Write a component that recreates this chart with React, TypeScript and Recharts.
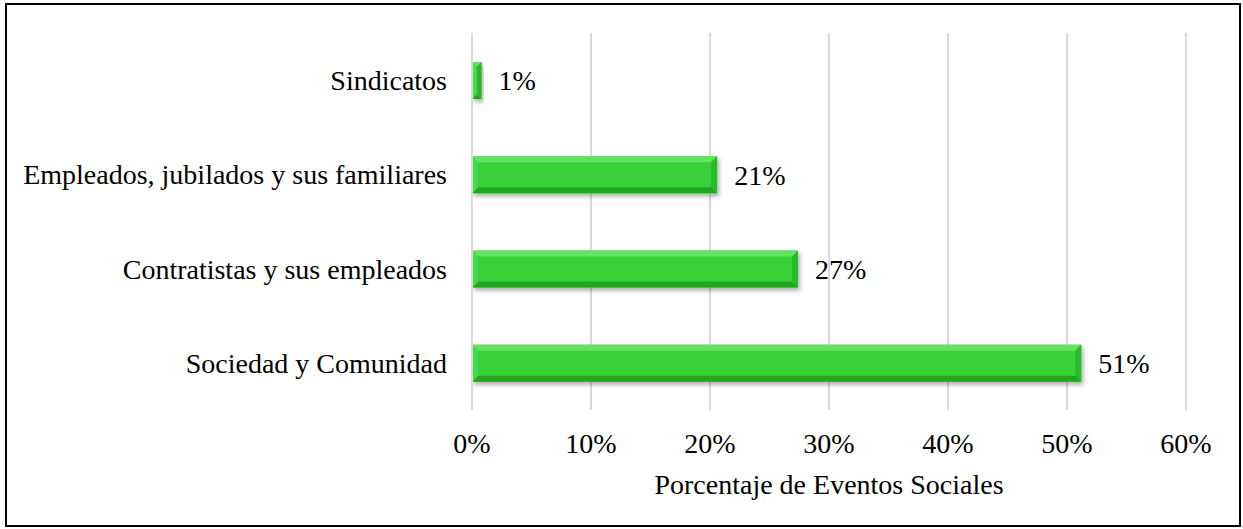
import React from 'react';
import { BarChart, Bar, XAxis, YAxis, CartesianGrid, LabelList } from 'recharts';

const categories = [
  'Sindicatos',
  'Empleados, jubilados y sus familiares',
  'Contratistas y sus empleados',
  'Sociedad y Comunidad',
];
const percentages = [0.8, 20.6, 27.4, 51.2];
const xTicks = [0, 10, 20, 30, 40, 50, 60];

const data = categories.map((name, i) => ({ name, value: percentages[i] }));

const FONT = '"Liberation Serif", "Times New Roman", serif';
const FS = 28;

const BevelBar = (props: any) => {
  const { x, y, width, height } = props;
  if (!width || width <= 0) return null;
  const b = Math.min(6, width / 2, height / 2);
  const r = x + width;
  const btm = y + height;
  return (
    <g filter="url(#barShadow)">
      <rect x={x} y={y} width={width} height={height} fill="#37d137" />
      <polygon points={`${x},${y} ${r},${y} ${r - b},${y + b} ${x + b},${y + b}`} fill="#62e462" />
      <polygon points={`${x},${btm} ${r},${btm} ${r - b},${btm - b} ${x + b},${btm - b}`} fill="#24a524" />
      <polygon points={`${r},${y} ${r},${btm} ${r - b},${btm - b} ${r - b},${y + b}`} fill="#2cb82c" />
      <polygon points={`${x},${y} ${x},${btm} ${x + b},${btm - b} ${x + b},${y + b}`} fill="#48da48" />
    </g>
  );
};

export default function App() {
  return (
    <div style={{ position: 'absolute', left: 0, top: 0, width: 1243, height: 529, background: '#fff' }}>
      <div
        style={{
          position: 'absolute',
          left: 5,
          top: 3,
          width: 1232,
          height: 520,
          border: '2px solid #000',
        }}
      />
      <div style={{ position: 'absolute', left: 0, top: 0 }}>
        <BarChart
          width={1243}
          height={529}
          data={data}
          layout="vertical"
          margin={{ top: 33, right: 57, left: 0, bottom: 29 }}
        >
          <defs>
            <filter id="barShadow" x="-10%" y="-30%" width="130%" height="180%">
              <feDropShadow dx="2" dy="3" stdDeviation="2" floodColor="#000" floodOpacity="0.3" />
            </filter>
          </defs>
          <CartesianGrid horizontal={false} stroke="#d9d9d9" strokeWidth={2} />
          <XAxis
            type="number"
            domain={[0, 60]}
            ticks={xTicks}
            tickFormatter={(v: number) => `${v}%`}
            axisLine={false}
            tickLine={false}
            tickSize={0}
            tickMargin={23}
            height={90}
            tick={{ fill: '#000', fontSize: FS, fontFamily: FONT }}
            label={{
              value: 'Porcentaje de Eventos Sociales',
              position: 'insideBottom',
              offset: 6,
              fill: '#000',
              fontSize: FS,
              fontFamily: FONT,
            }}
          />
          <YAxis
            type="category"
            dataKey="name"
            width={472}
            axisLine={{ stroke: '#d9d9d9', strokeWidth: 2 }}
            tickLine={false}
            tickSize={0}
            tickMargin={25}
            tick={{ fill: '#000', fontSize: FS, fontFamily: FONT }}
          />
          <Bar dataKey="value" barSize={37} shape={<BevelBar />} isAnimationActive={false}>
            <LabelList
              dataKey="value"
              position="right"
              offset={17}
              formatter={(v: any) => `${Math.round(Number(v))}%`}
              style={{ fill: '#000', fontSize: FS, fontFamily: FONT }}
            />
          </Bar>
        </BarChart>
      </div>
    </div>
  );
}
